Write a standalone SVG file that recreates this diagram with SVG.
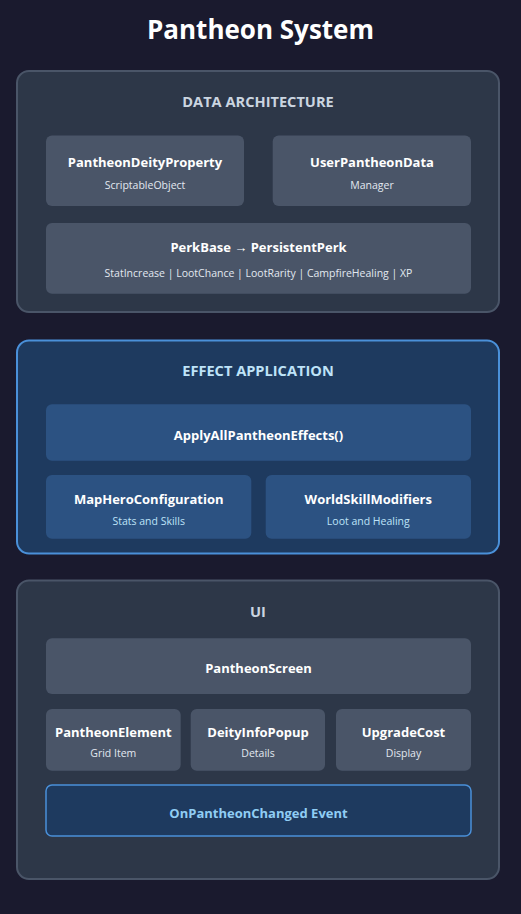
<svg xmlns="http://www.w3.org/2000/svg" width="521" height="914" viewBox="0 0 521 914">
<style>
text{font-family:"Open Sans","Noto Sans","Liberation Sans",sans-serif;text-anchor:middle;dominant-baseline:central}
.title{font-size:26px;font-weight:700;fill:#ffffff}
.sec{fill:#2d3748;stroke:#4a5568;stroke-width:2}
.secb{fill:#1e3a5f;stroke:#4a90d9;stroke-width:2}
.sh{font-size:14.6px;font-weight:700;fill:#cbd5e0}
.shb{font-size:14.6px;font-weight:700;fill:#bee3f8}
.box{fill:#4a5568}
.boxb{fill:#2c5282}
.evt{fill:#1e3a5f;stroke:#4a90d9;stroke-width:1.5}
.t{font-size:13px;font-weight:700;fill:#ffffff}
.s{font-size:10.5px;fill:#e2e8f0}
.sb{font-size:10.5px;fill:#bee3f8}
.te{font-size:13px;font-weight:700;fill:#90cdf4}
</style>
<rect width="521" height="914" fill="#1a1a2e"/>
<text class="title" x="260.5" y="29">Pantheon System</text>

<g id="data-architecture">
<rect class="sec" x="17" y="71" width="482" height="241" rx="12"/>
<text class="sh" x="258" y="101">DATA ARCHITECTURE</text>
</g>
<g id="pantheon-deity-property">
<rect class="box" x="46" y="135.5" width="198" height="70.5" rx="6"/>
<text class="t" x="145" y="162">PantheonDeityProperty</text>
<text class="s" x="145" y="185">ScriptableObject</text>
</g>
<g id="user-pantheon-data">
<rect class="box" x="272.7" y="135.5" width="198.3" height="70.5" rx="6"/>
<text class="t" x="372" y="162">UserPantheonData</text>
<text class="s" x="372" y="185">Manager</text>
</g>
<g id="perk-base">
<rect class="box" x="46" y="223" width="425" height="70.7" rx="6"/>
<text class="t" x="258.5" y="247">PerkBase → PersistentPerk</text>
<text class="s" x="258.5" y="273">StatIncrease | LootChance | LootRarity | CampfireHealing | XP</text>
</g>

<g id="effect-application">
<rect class="secb" x="17" y="340.5" width="482" height="213" rx="12"/>
<text class="shb" x="258" y="370">EFFECT APPLICATION</text>
</g>
<g id="apply-all-pantheon-effects">
<rect class="boxb" x="46" y="404.3" width="425" height="56.4" rx="6"/>
<text class="t" x="258.5" y="435">ApplyAllPantheonEffects()</text>
</g>
<g id="map-hero-configuration">
<rect class="boxb" x="46" y="475" width="205.3" height="63.7" rx="6"/>
<text class="t" x="148.7" y="499">MapHeroConfiguration</text>
<text class="sb" x="148.7" y="521">Stats and Skills</text>
</g>
<g id="world-skill-modifiers">
<rect class="boxb" x="265.7" y="475" width="205.3" height="63.7" rx="6"/>
<text class="t" x="368.3" y="499">WorldSkillModifiers</text>
<text class="sb" x="368.3" y="521">Loot and Healing</text>
</g>

<g id="ui">
<rect class="sec" x="17" y="580.5" width="482" height="298.5" rx="12"/>
<text class="sh" x="258" y="611">UI</text>
</g>
<g id="pantheon-screen">
<rect class="box" x="46" y="638.3" width="425" height="55.7" rx="6"/>
<text class="t" x="258.5" y="668">PantheonScreen</text>
</g>
<g id="pantheon-element">
<rect class="box" x="46" y="709" width="134.7" height="61.7" rx="6"/>
<text class="t" x="113.3" y="732">PantheonElement</text>
<text class="s" x="113.3" y="753">Grid Item</text>
</g>
<g id="deity-info-popup">
<rect class="box" x="190.7" y="709" width="134.3" height="61.7" rx="6"/>
<text class="t" x="258" y="732">DeityInfoPopup</text>
<text class="s" x="258" y="753">Details</text>
</g>
<g id="upgrade-cost">
<rect class="box" x="336" y="709" width="135" height="61.7" rx="6"/>
<text class="t" x="403.5" y="732">UpgradeCost</text>
<text class="s" x="403.5" y="753">Display</text>
</g>
<g id="on-pantheon-changed">
<rect class="evt" x="46" y="785" width="425" height="51" rx="6"/>
<text class="te" x="258.5" y="813">OnPantheonChanged Event</text>
</g>
<g id="connectors"></g>
</svg>
